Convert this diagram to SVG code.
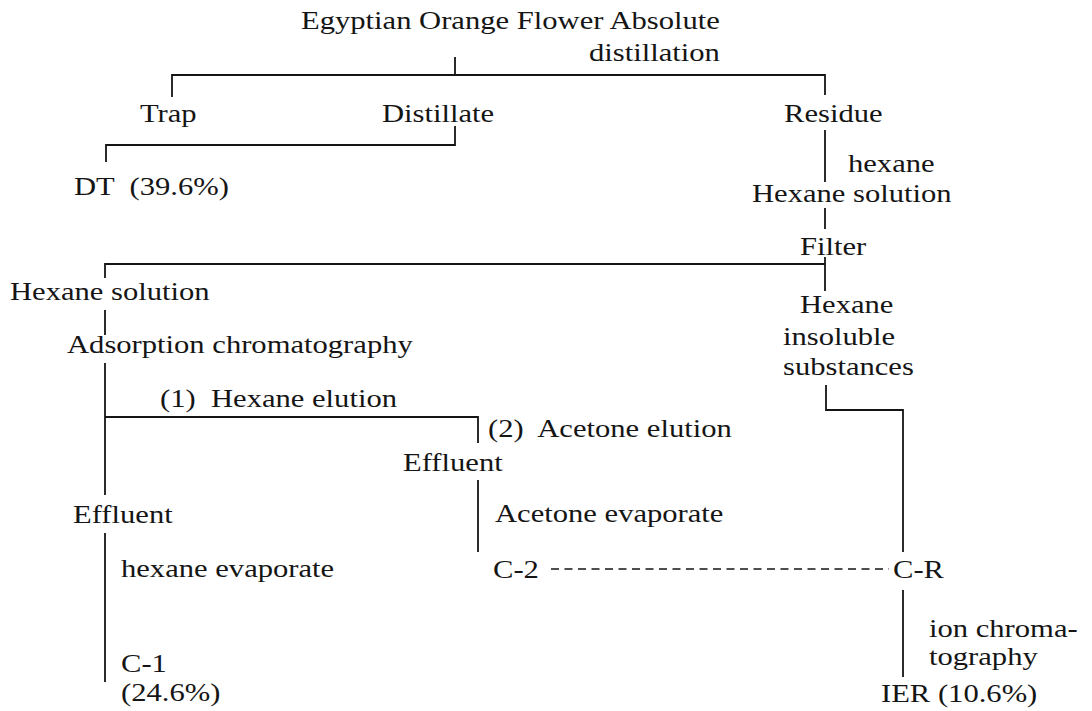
<svg xmlns="http://www.w3.org/2000/svg" width="1092" height="711" viewBox="0 0 1092 711">
<style>
  text { font-family: "Liberation Serif", "Times New Roman", serif; font-size: 25.5px; fill: #151515; }
  .ln { stroke: #151515; stroke-width: 1.8; fill: none; stroke-linecap: butt; }
  .dash { stroke: #151515; stroke-width: 1.6; fill: none; stroke-dasharray: 8 5.5; }
</style>
<rect width="1092" height="711" fill="#ffffff"/>
<g id="connectors">
  <path class="ln" d="M455 57V75M172 97V75H825V95"/>
  <path class="ln" d="M455 126V145H106V162"/>
  <path class="ln" d="M825 130V182M825 208V229M825 257V291M825 264H105V278"/>
  <path class="ln" d="M105 310V335M105 363V495M105 417H478V443M478 480V552M105 533V682"/>
  <path class="ln" d="M826 385V410H903V552M903 590V677"/>
  <path class="dash" d="M551 569H889"/>
</g>
<g id="n-title"><text transform="translate(301,29) scale(1.2 1)">Egyptian Orange Flower Absolute</text><text transform="translate(589,61) scale(1.2 1)">distillation</text></g>
<g id="n-trap"><text transform="translate(140,122) scale(1.2 1)">Trap</text></g>
<g id="n-distillate"><text transform="translate(382,122) scale(1.2 1)">Distillate</text></g>
<g id="n-residue"><text transform="translate(784,122) scale(1.2 1)">Residue</text></g>
<g id="n-dt"><text xml:space="preserve" transform="translate(74,195) scale(1.2 1)">DT  (39.6%)</text></g>
<g id="n-hexsol-right"><text transform="translate(848,172) scale(1.2 1)">hexane</text><text transform="translate(752,202) scale(1.2 1)">Hexane solution</text></g>
<g id="n-filter"><text transform="translate(800,255) scale(1.2 1)">Filter</text></g>
<g id="n-hexsol-left"><text transform="translate(10,300) scale(1.2 1)">Hexane solution</text></g>
<g id="n-insoluble"><text transform="translate(800,313) scale(1.2 1)">Hexane</text><text transform="translate(783,345) scale(1.2 1)">insoluble</text><text transform="translate(783,375) scale(1.2 1)">substances</text></g>
<g id="n-adsorption"><text transform="translate(67,353) scale(1.2 1)">Adsorption chromatography</text></g>
<g id="n-hexane-elution"><text xml:space="preserve" transform="translate(160,407) scale(1.2 1)">(1)  Hexane elution</text></g>
<g id="n-acetone-elution"><text xml:space="preserve" transform="translate(488,437) scale(1.2 1)">(2)  Acetone elution</text></g>
<g id="n-effluent-2"><text transform="translate(403,471) scale(1.2 1)">Effluent</text><text transform="translate(495,522) scale(1.2 1)">Acetone evaporate</text></g>
<g id="n-effluent-1"><text transform="translate(73,523) scale(1.2 1)">Effluent</text><text transform="translate(121,577) scale(1.2 1)">hexane evaporate</text></g>
<g id="n-c2"><text transform="translate(493,578) scale(1.2 1)">C-2</text></g>
<g id="n-cr"><text transform="translate(893,578) scale(1.2 1)">C-R</text></g>
<g id="n-ion"><text transform="translate(929,637) scale(1.2 1)">ion chroma-</text><text transform="translate(929,665) scale(1.2 1)">tography</text></g>
<g id="n-c1"><text transform="translate(121,672) scale(1.2 1)">C-1</text><text transform="translate(121,701) scale(1.2 1)">(24.6%)</text></g>
<g id="n-ier"><text transform="translate(881,702) scale(1.2 1)">IER (10.6%)</text></g>
</svg>
